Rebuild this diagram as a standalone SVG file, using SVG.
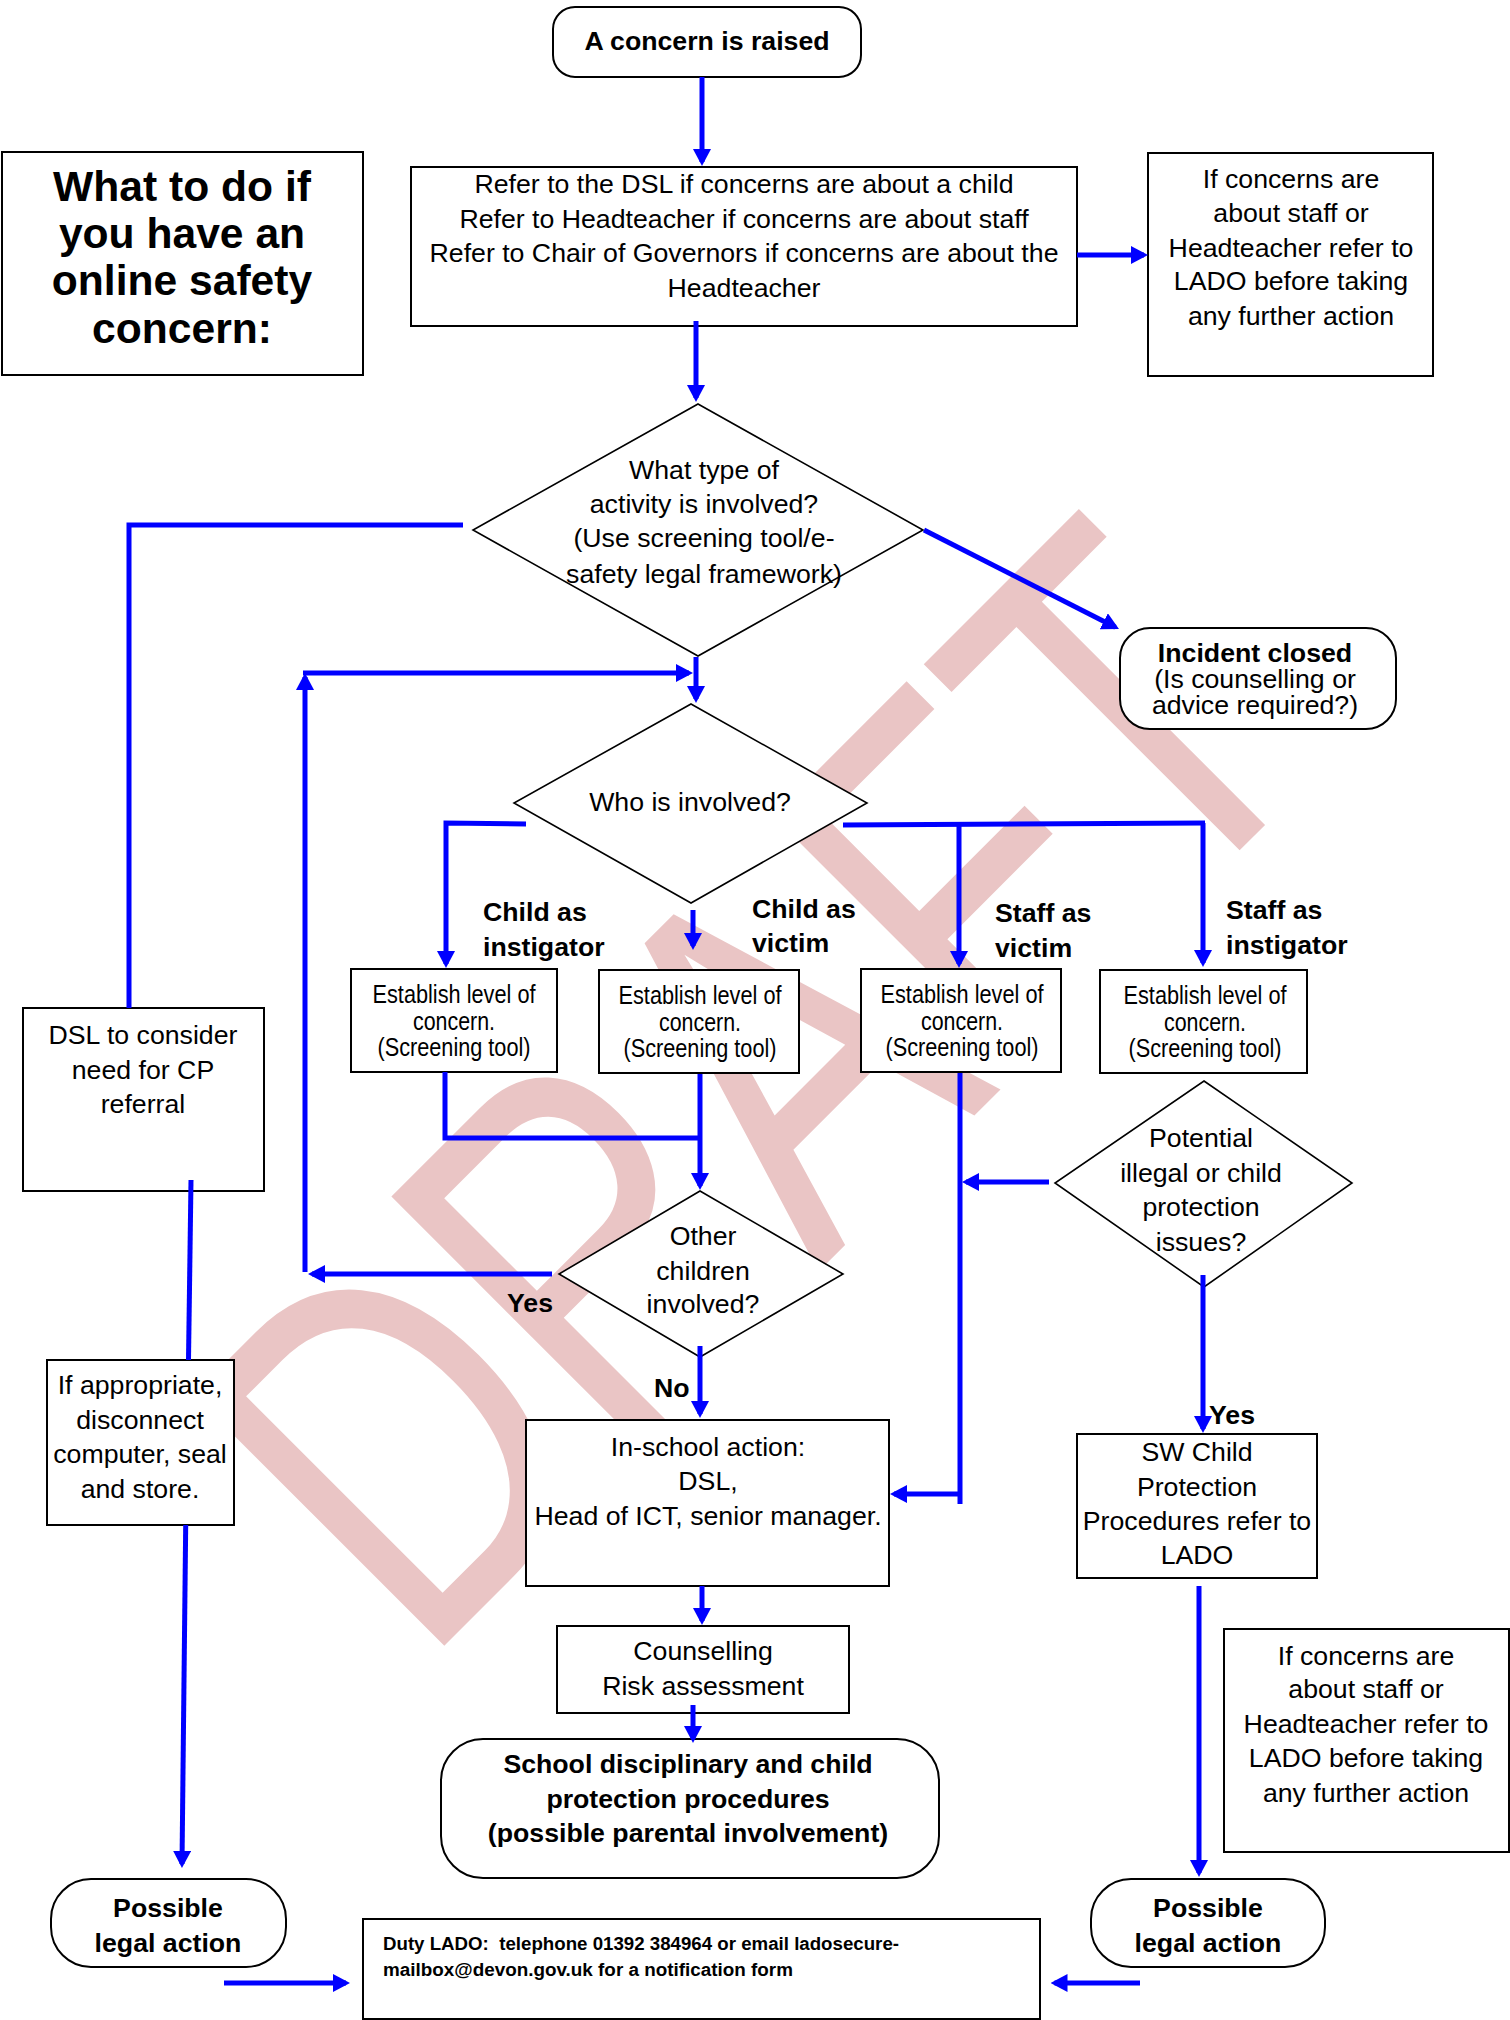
<svg xmlns="http://www.w3.org/2000/svg" width="1510" height="2020" viewBox="0 0 1510 2020">
<defs>
<style>
.bx{fill:#fff;stroke:#000;stroke-width:2}
.dm{fill:#fff;stroke:#000;stroke-width:1.6}
.t{font-family:"Liberation Sans",Arial,sans-serif;font-size:26.7px;text-anchor:middle;fill:#000}
.b{font-weight:bold}
.l{text-anchor:start}
.n{font-family:"Liberation Sans Narrow","Liberation Sans",Arial,sans-serif;font-size:26px}
.c{fill:none;stroke:#0000ff;stroke-width:5}
.a{marker-end:url(#ah)}
.wm{font-family:"Liberation Sans",Arial,sans-serif;font-size:388px;fill:#eac5c5}
</style>
<marker id="ah" viewBox="0 0 17 18" markerWidth="17" markerHeight="18" refX="13" refY="9" orient="auto" markerUnits="userSpaceOnUse">
<path d="M0,0 L17,9 L0,18 Z" fill="#0000ff"/>
</marker>
</defs>
<rect width="1510" height="2020" fill="#fff"/>
<g id="watermark">
<text class="wm" x="-30" y="0" transform="translate(443,1647) rotate(-45) scale(1,1.33)">DRAFT</text>
</g>
<g id="nodes">
<g id="title"><rect class="bx" x="2" y="152" width="361" height="223"/>
<text class="t b" style="font-size:42.6px"><tspan x="182" y="201">What to do if</tspan><tspan x="182" y="248">you have an</tspan><tspan x="182" y="295">online safety</tspan><tspan x="182" y="343">concern:</tspan></text></g>
<g id="concern"><rect class="bx" x="553" y="7" width="308" height="70" rx="22"/>
<text class="t b" x="707" y="50">A concern is raised</text></g>
<g id="refer"><rect class="bx" x="411" y="167" width="666" height="159"/>
<text class="t"><tspan x="744" y="193">Refer to the DSL if concerns are about a child</tspan><tspan x="744" y="228">Refer to Headteacher if concerns are about staff</tspan><tspan x="744" y="262">Refer to Chair of Governors if concerns are about the</tspan><tspan x="744" y="297">Headteacher</tspan></text></g>
<g id="lado-top"><rect class="bx" x="1148" y="153" width="285" height="223"/>
<text class="t"><tspan x="1291" y="188">If concerns are</tspan><tspan x="1291" y="222">about staff or</tspan><tspan x="1291" y="257">Headteacher refer to</tspan><tspan x="1291" y="290">LADO before taking</tspan><tspan x="1291" y="325">any further action</tspan></text></g>
<g id="activity"><polygon class="dm" points="698,404 923,530 698,656 473,530"/>
<text class="t"><tspan x="704" y="479">What type of</tspan><tspan x="704" y="513">activity is involved?</tspan><tspan x="704" y="547">(Use screening tool/e-</tspan><tspan x="704" y="583">safety legal framework)</tspan></text></g>
<g id="incident"><rect class="bx" x="1120" y="628" width="276" height="101" rx="30"/>
<text class="t"><tspan class="b" x="1255" y="662">Incident closed</tspan><tspan x="1255" y="688">(Is counselling or</tspan><tspan x="1255" y="714">advice required?)</tspan></text></g>
<g id="who"><polygon class="dm" points="691,704 867,803 691,903 514,803"/>
<text class="t" x="690" y="811">Who is involved?</text></g>
<g id="est1"><rect class="bx" x="351" y="969" width="206" height="103"/>
<text class="t n"><tspan x="454" y="1003" textLength="163" lengthAdjust="spacingAndGlyphs">Establish level of</tspan><tspan x="454" y="1030" textLength="82" lengthAdjust="spacingAndGlyphs">concern.</tspan><tspan x="454" y="1056" textLength="153" lengthAdjust="spacingAndGlyphs">(Screening tool)</tspan></text></g>
<g id="est2"><rect class="bx" x="599" y="970" width="200" height="103"/>
<text class="t n"><tspan x="700" y="1004" textLength="163" lengthAdjust="spacingAndGlyphs">Establish level of</tspan><tspan x="700" y="1031" textLength="82" lengthAdjust="spacingAndGlyphs">concern.</tspan><tspan x="700" y="1057" textLength="153" lengthAdjust="spacingAndGlyphs">(Screening tool)</tspan></text></g>
<g id="est3"><rect class="bx" x="861" y="969" width="200" height="103"/>
<text class="t n"><tspan x="962" y="1003" textLength="163" lengthAdjust="spacingAndGlyphs">Establish level of</tspan><tspan x="962" y="1030" textLength="82" lengthAdjust="spacingAndGlyphs">concern.</tspan><tspan x="962" y="1056" textLength="153" lengthAdjust="spacingAndGlyphs">(Screening tool)</tspan></text></g>
<g id="est4"><rect class="bx" x="1100" y="970" width="207" height="103"/>
<text class="t n"><tspan x="1205" y="1004" textLength="163" lengthAdjust="spacingAndGlyphs">Establish level of</tspan><tspan x="1205" y="1031" textLength="82" lengthAdjust="spacingAndGlyphs">concern.</tspan><tspan x="1205" y="1057" textLength="153" lengthAdjust="spacingAndGlyphs">(Screening tool)</tspan></text></g>
<g id="dsl"><rect class="bx" x="23" y="1008" width="241" height="183"/>
<text class="t"><tspan x="143" y="1044">DSL to consider</tspan><tspan x="143" y="1079">need for CP</tspan><tspan x="143" y="1113">referral</tspan></text></g>
<g id="potential"><polygon class="dm" points="1204,1081 1352,1183 1204,1287 1055,1183"/>
<text class="t"><tspan x="1201" y="1147">Potential</tspan><tspan x="1201" y="1182">illegal or child</tspan><tspan x="1201" y="1216">protection</tspan><tspan x="1201" y="1251">issues?</tspan></text></g>
<g id="other"><polygon class="dm" points="700,1191 843,1274 700,1357 559,1274"/>
<text class="t"><tspan x="703" y="1245">Other</tspan><tspan x="703" y="1280">children</tspan><tspan x="703" y="1313">involved?</tspan></text></g>
<g id="disconnect"><rect class="bx" x="47" y="1360" width="187" height="165"/>
<text class="t"><tspan x="140" y="1394">If appropriate,</tspan><tspan x="140" y="1429">disconnect</tspan><tspan x="140" y="1463">computer, seal</tspan><tspan x="140" y="1498">and store.</tspan></text></g>
<g id="inschool"><rect class="bx" x="526" y="1420" width="363" height="166"/>
<text class="t"><tspan x="708" y="1456">In-school action:</tspan><tspan x="708" y="1490">DSL,</tspan><tspan x="708" y="1525">Head of ICT, senior manager.</tspan></text></g>
<g id="sw"><rect class="bx" x="1077" y="1434" width="240" height="144"/>
<text class="t"><tspan x="1197" y="1461">SW Child</tspan><tspan x="1197" y="1496">Protection</tspan><tspan x="1197" y="1530">Procedures refer to</tspan><tspan x="1197" y="1564">LADO</tspan></text></g>
<g id="counselling"><rect class="bx" x="557" y="1626" width="292" height="87"/>
<text class="t"><tspan x="703" y="1660">Counselling</tspan><tspan x="703" y="1695">Risk assessment</tspan></text></g>
<g id="lado-right"><rect class="bx" x="1224" y="1629" width="285" height="223"/>
<text class="t"><tspan x="1366" y="1665">If concerns are</tspan><tspan x="1366" y="1698">about staff or</tspan><tspan x="1366" y="1733">Headteacher refer to</tspan><tspan x="1366" y="1767">LADO before taking</tspan><tspan x="1366" y="1802">any further action</tspan></text></g>
<g id="school"><rect class="bx" x="441" y="1739" width="498" height="139" rx="42"/>
<text class="t b"><tspan x="688" y="1773">School disciplinary and child</tspan><tspan x="688" y="1808">protection procedures</tspan><tspan x="688" y="1842">(possible parental involvement)</tspan></text></g>
<g id="legal-left"><rect class="bx" x="51" y="1879" width="235" height="88" rx="40"/>
<text class="t b"><tspan x="168" y="1917">Possible</tspan><tspan x="168" y="1952">legal action</tspan></text></g>
<g id="legal-right"><rect class="bx" x="1091" y="1879" width="234" height="88" rx="40"/>
<text class="t b"><tspan x="1208" y="1917">Possible</tspan><tspan x="1208" y="1952">legal action</tspan></text></g>
<g id="duty"><rect class="bx" x="363" y="1919" width="677" height="100"/>
<text class="t b l" style="font-size:17.5px" xml:space="preserve"><tspan x="383" y="1950" textLength="516" lengthAdjust="spacingAndGlyphs">Duty LADO:  telephone 01392 384964 or email ladosecure-</tspan><tspan x="383" y="1976" textLength="410" lengthAdjust="spacingAndGlyphs">mailbox@devon.gov.uk for a notification form</tspan></text></g>
</g>
<g id="connectors">
<path class="c a" d="M702,77 V162"/>
<path class="c a" d="M1077,255 H1144"/>
<path class="c a" d="M696,321 V398"/>
<path class="c" d="M463,525 H129 V1008"/>
<path class="c a" d="M924,530 L1115.4,627.2"/>
<path class="c a" d="M696,657 V699"/>
<path class="c a" d="M305,1272 V677"/>
<path class="c a" d="M303,673 H689"/>
<path class="c a" d="M526,824 L446,823 V964"/>
<path class="c a" d="M693,910 V946"/>
<path class="c" d="M843,825 L1205,823"/>
<path class="c a" d="M959,825 V964"/>
<path class="c a" d="M1203,823 V963"/>
<path class="c" d="M445,1072 V1138 H700"/>
<path class="c a" d="M700,1074 V1186"/>
<path class="c a" d="M552,1274 H312"/>
<path class="c a" d="M700,1346 V1414"/>
<path class="c" d="M960,1073 V1504"/>
<path class="c a" d="M960,1494 H894"/>
<path class="c a" d="M1049,1182 H966"/>
<path class="c a" d="M1203,1275 V1429"/>
<path class="c a" d="M702,1586 V1621"/>
<path class="c a" d="M693,1705 V1739"/>
<path class="c" d="M191,1180 L188.5,1360"/>
<path class="c a" d="M185.7,1525 L182,1864"/>
<path class="c a" d="M1199,1586 V1873"/>
<path class="c a" d="M224,1983 H346"/>
<path class="c a" d="M1140,1983 H1054.5"/>
</g>
<g id="edge-labels">
<text class="t b l"><tspan x="483" y="921">Child as</tspan><tspan x="483" y="956">instigator</tspan></text>
<text class="t b l"><tspan x="752" y="918">Child as</tspan><tspan x="752" y="952">victim</tspan></text>
<text class="t b l"><tspan x="995" y="922">Staff as</tspan><tspan x="995" y="957">victim</tspan></text>
<text class="t b l"><tspan x="1226" y="919">Staff as</tspan><tspan x="1226" y="954">instigator</tspan></text>
<text class="t b l" x="507" y="1312">Yes</text>
<text class="t b l" x="654" y="1397">No</text>
<text class="t b l" x="1209" y="1424">Yes</text>
</g>
</svg>
